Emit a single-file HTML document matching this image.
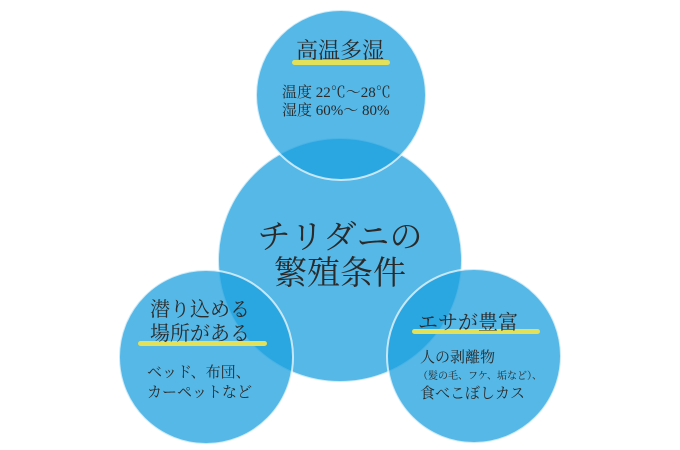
<!DOCTYPE html>
<html><head><meta charset="utf-8"><style>
body{margin:0;background:#fff;}
svg{display:block}
text{font-family:"Liberation Serif","Noto Serif CJK SC",serif;fill:#2a2a2a;}
</style></head><body>
<svg width="680" height="450" viewBox="0 0 680 450" xmlns="http://www.w3.org/2000/svg">
<g fill="rgb(28,160,223)" fill-opacity="0.75" stroke="#fff" stroke-opacity="0.7" stroke-width="2">
<circle cx="340" cy="260" r="122"/>
<circle cx="341" cy="95" r="85"/>
<circle cx="206" cy="357" r="87"/>
<circle cx="474" cy="356" r="87"/>
</g>
<g fill="#e3e05a">
<rect x="292" y="60" width="98" height="5" rx="2.5"/>
<rect x="138" y="341" width="129" height="5" rx="2.5"/>
<rect x="412" y="329" width="128" height="5" rx="2.5"/>
</g>
<text x="296" y="58" font-size="22">高温多湿</text>
<text x="282" y="97" font-size="15">温度 22℃〜28℃</text>
<text x="282" y="115" font-size="15">湿度 60%〜 80%</text>
<text x="340" y="248" font-size="33" text-anchor="middle">チリダニの</text>
<text x="340" y="284" font-size="33" text-anchor="middle">繁殖条件</text>
<text x="150" y="316" font-size="20">潜り込める</text>
<text x="150" y="340" font-size="20">場所がある</text>
<text x="147" y="377" font-size="15">ベッド、布団、</text>
<text x="147" y="397" font-size="15">カーペットなど</text>
<text x="418" y="329" font-size="20">エサが豊富</text>
<text x="420" y="362" font-size="15">人の剥離物</text>
<text x="418" y="379" font-size="10">（髪の毛、フケ、垢など）、</text>
<text x="420" y="398" font-size="15">食べこぼしカス</text>
</svg>
</body></html>
